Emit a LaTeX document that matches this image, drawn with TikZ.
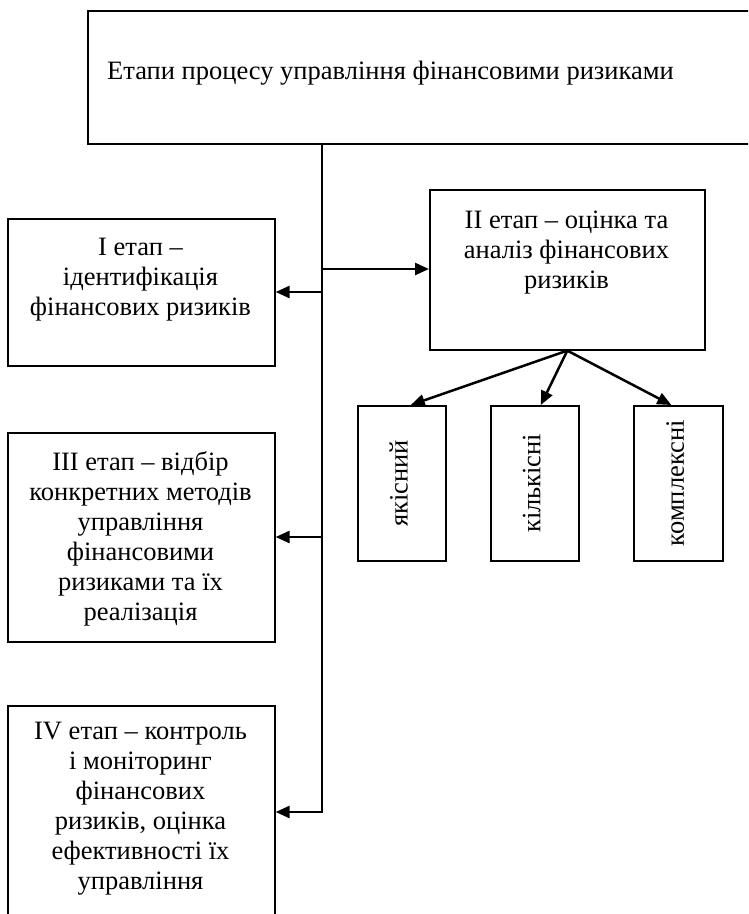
\documentclass[tikz,border=0pt]{standalone}
\usepackage{fontspec}
\setmainfont{Liberation Serif}
\usetikzlibrary{arrows.meta,calc}
\begin{document}
\begin{tikzpicture}[x=1pt,y=-1pt,
 box/.style={draw, line width=1.6pt, rectangle, inner sep=0pt},
 txt/.style={align=center, font=\fontsize{26.5}{30}\selectfont, inner sep=0pt},
 vtxt/.style={font=\fontsize{26.5}{30}\selectfont, rotate=90, inner sep=0pt},
 arr/.style={line width=2.5pt, -{Triangle[length=14pt,width=12pt]}},
 conn/.style={line width=1.8pt}]
\useasboundingbox (0,0) rectangle (748,914);
\clip (0,0) rectangle (748,914);
% top box
\node[box, anchor=north west, minimum width=690pt, minimum height=133pt] (top) at (87,10) {};
\node[txt, anchor=west] (toptxt) at (107,73) {Етапи процесу управління фінансовими ризиками};
% stage boxes
\node[box, anchor=north west, minimum width=267pt, minimum height=147pt] (b1) at (7,218) {};
\node[txt] (t1) at (140.5,280) {I етап –\\ідентифікація\\фінансових ризиків};
\node[box, anchor=north west, minimum width=275pt, minimum height=160pt] (b2) at (429,189) {};
\node[txt] (t2) at (566.5,253) {II етап – оцінка та\\аналіз фінансових\\ризиків};
\node[box, anchor=north west, minimum width=267pt, minimum height=209pt] (b3) at (7,432) {};
\node[txt] (t3) at (140.5,539) {III етап – відбір\\конкретних методів\\управління\\фінансовими\\ризиками та їх\\реалізація};
\node[box, anchor=north west, minimum width=267pt, minimum height=230pt] (b4) at (7,705) {};
\node[txt] (t4) at (140.5,809) {IV етап – контроль\\і моніторинг\\фінансових\\ризиків, оцінка\\ефективності їх\\управління};
% method boxes
\node[box, anchor=north west, minimum width=88pt, minimum height=155pt] (m1) at (357,405) {};
\node[vtxt] (v1) at ([xshift=-3pt]m1.center) {якісний};
\node[box, anchor=north west, minimum width=88pt, minimum height=155pt] (m2) at (490,405) {};
\node[vtxt] (v2) at ([xshift=-3pt]m2.center) {кількісні};
\node[box, anchor=north west, minimum width=89pt, minimum height=155pt] (m3) at (633,405) {};
\node[vtxt] (v3) at ([xshift=-3pt]m3.center) {комплексні};
% trunk
\coordinate (jt) at (322,143);
\coordinate (j2) at (322,269);
\coordinate (j1) at (322,292);
\coordinate (j3) at (322,537);
\coordinate (j4) at (322,812);
\draw[conn] (jt) -- (j4);
\draw[arr] (j2) -- (j2 -| b2.west);
\draw[arr] (j1) -- (j1 -| b1.east);
\draw[arr] (j3) -- (j3 -| b3.east);
\draw[arr] ([xshift=0.9pt]j4) -- (j4 -| b4.east);
% method arrows
\draw[arr] (b2.south) -- ([xshift=9pt]m1.north);
\draw[arr] (b2.south) -- ([xshift=6pt]m2.north);
\draw[arr] (b2.south) -- ([xshift=-7pt]m3.north);
\end{tikzpicture}
\end{document}
